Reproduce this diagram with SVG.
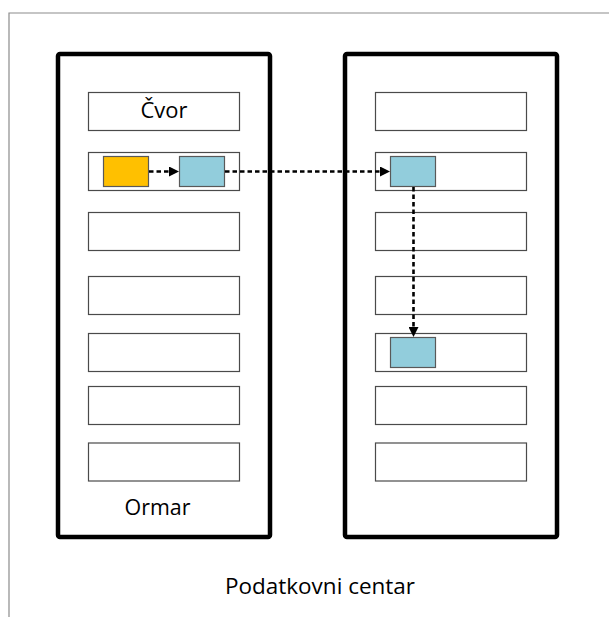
<svg xmlns="http://www.w3.org/2000/svg" width="609" height="617" viewBox="0 0 609 617">
<style>
.frame{fill:none;stroke:#8c8c8c;stroke-width:1.2}
.rack{fill:#ffffff;stroke:#000000;stroke-width:4.5}
.row{fill:#ffffff;stroke:#4a4a4a;stroke-width:1.2}
.vm-o{fill:#FFC000;stroke:#595959;stroke-width:1.2}
.vm-b{fill:#92CDDC;stroke:#595959;stroke-width:1.2}
.conn{fill:none;stroke:#000000;stroke-width:2.6;stroke-dasharray:4.5 3}
.lbl{font-family:"Open Sans","Noto Sans","Liberation Sans",sans-serif;font-size:22px;fill:#000000}
</style>
<defs>
<marker id="arr" markerUnits="userSpaceOnUse" markerWidth="11" markerHeight="10" refX="10" refY="5" orient="auto">
<path d="M0,0 L10,5 L0,10 z" fill="#000000"/>
</marker>
</defs>
<rect width="609" height="617" fill="#ffffff"/>
<g id="datacenter">
<path class="frame" d="M9,617 L9,13 L609,13"/>
<text class="lbl" x="320" y="594" text-anchor="middle" textLength="190" lengthAdjust="spacingAndGlyphs">Podatkovni centar</text>
</g>
<g id="rack1">
<rect class="rack" x="58" y="54" width="212" height="483" rx="2"/>
<text class="lbl" x="157.5" y="515" text-anchor="middle" textLength="66" lengthAdjust="spacingAndGlyphs">Ormar</text>
</g>
<g id="rack2">
<rect class="rack" x="345" y="54" width="212" height="483" rx="2"/>
</g>
<g id="rack1-nodes">
<g id="node-l1"><rect class="row" x="88.5" y="92.5" width="151" height="38"/>
<text class="lbl" x="164" y="118" text-anchor="middle" textLength="47" lengthAdjust="spacingAndGlyphs">Čvor</text></g>
<g id="node-l2"><rect class="row" x="88.5" y="152.5" width="151" height="38"/></g>
<g id="node-l3"><rect class="row" x="88.5" y="212.5" width="151" height="38"/></g>
<g id="node-l4"><rect class="row" x="88.5" y="276.5" width="151" height="38"/></g>
<g id="node-l5"><rect class="row" x="88.5" y="333.5" width="151" height="38"/></g>
<g id="node-l6"><rect class="row" x="88.5" y="386.5" width="151" height="38"/></g>
<g id="node-l7"><rect class="row" x="88.5" y="443" width="151" height="38"/></g>
</g>
<g id="rack2-nodes">
<g id="node-r1"><rect class="row" x="375.5" y="92.5" width="151" height="38"/></g>
<g id="node-r2"><rect class="row" x="375.5" y="152.5" width="151" height="38"/></g>
<g id="node-r3"><rect class="row" x="375.5" y="212.5" width="151" height="38"/></g>
<g id="node-r4"><rect class="row" x="375.5" y="276.5" width="151" height="38"/></g>
<g id="node-r5"><rect class="row" x="375.5" y="333.5" width="151" height="38"/></g>
<g id="node-r6"><rect class="row" x="375.5" y="386.5" width="151" height="38"/></g>
<g id="node-r7"><rect class="row" x="375.5" y="443" width="151" height="38"/></g>
</g>
<g id="vm-orange"><rect class="vm-o" x="103.5" y="156.5" width="45" height="30"/></g>
<g id="vm-blue-1"><rect class="vm-b" x="179.5" y="156.5" width="45" height="30"/></g>
<g id="vm-blue-2"><rect class="vm-b" x="390.5" y="156.5" width="45" height="30"/></g>
<g id="vm-blue-3"><rect class="vm-b" x="390.5" y="337.5" width="45" height="30"/></g>
<g id="connectors">
<path class="conn" d="M149,171.5 L179,171.5" marker-end="url(#arr)"/>
<path class="conn" d="M225,171.5 L390,171.5" marker-end="url(#arr)"/>
<path class="conn" d="M413.5,187 L413.5,337" marker-end="url(#arr)"/>
</g>
</svg>
